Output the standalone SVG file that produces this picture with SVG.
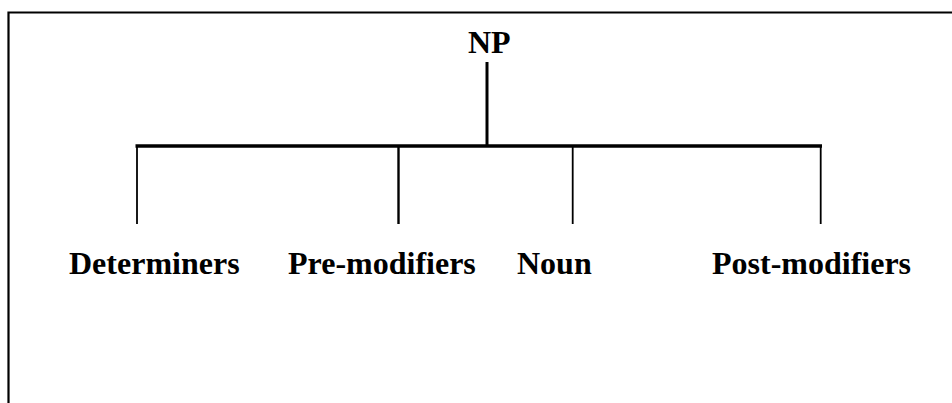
<svg xmlns="http://www.w3.org/2000/svg" width="952" height="403" viewBox="0 0 952 403">
<style>
.lbl{font-family:"Liberation Serif","Times New Roman",serif;font-weight:bold;font-size:32px;fill:#000}
.ln{stroke:#000;fill:none}
</style>
<rect width="952" height="403" fill="#fff"/>
<g id="frame">
<path class="ln" d="M8.5,403 V12.5 H952" stroke-width="2.2"/>
</g>
<g id="connectors">
<line class="ln" x1="487" y1="62" x2="487" y2="146" stroke-width="3"/>
<line class="ln" x1="135.5" y1="146" x2="822" y2="146" stroke-width="3.5"/>
<line class="ln" x1="137" y1="146" x2="137" y2="224" stroke-width="1.8"/>
<line class="ln" x1="398.5" y1="146" x2="398.5" y2="224" stroke-width="2.4"/>
<line class="ln" x1="572.7" y1="146" x2="572.7" y2="224" stroke-width="1.8"/>
<line class="ln" x1="820.7" y1="146" x2="820.7" y2="224" stroke-width="1.8"/>
</g>
<g id="np"><text class="lbl" x="468" y="53">NP</text></g>
<g id="determiners"><text class="lbl" x="69" y="274">Determiners</text></g>
<g id="pre-modifiers"><text class="lbl" x="288" y="274">Pre-modifiers</text></g>
<g id="noun"><text class="lbl" x="517" y="274">Noun</text></g>
<g id="post-modifiers"><text class="lbl" x="712" y="274">Post-modifiers</text></g>
</svg>
